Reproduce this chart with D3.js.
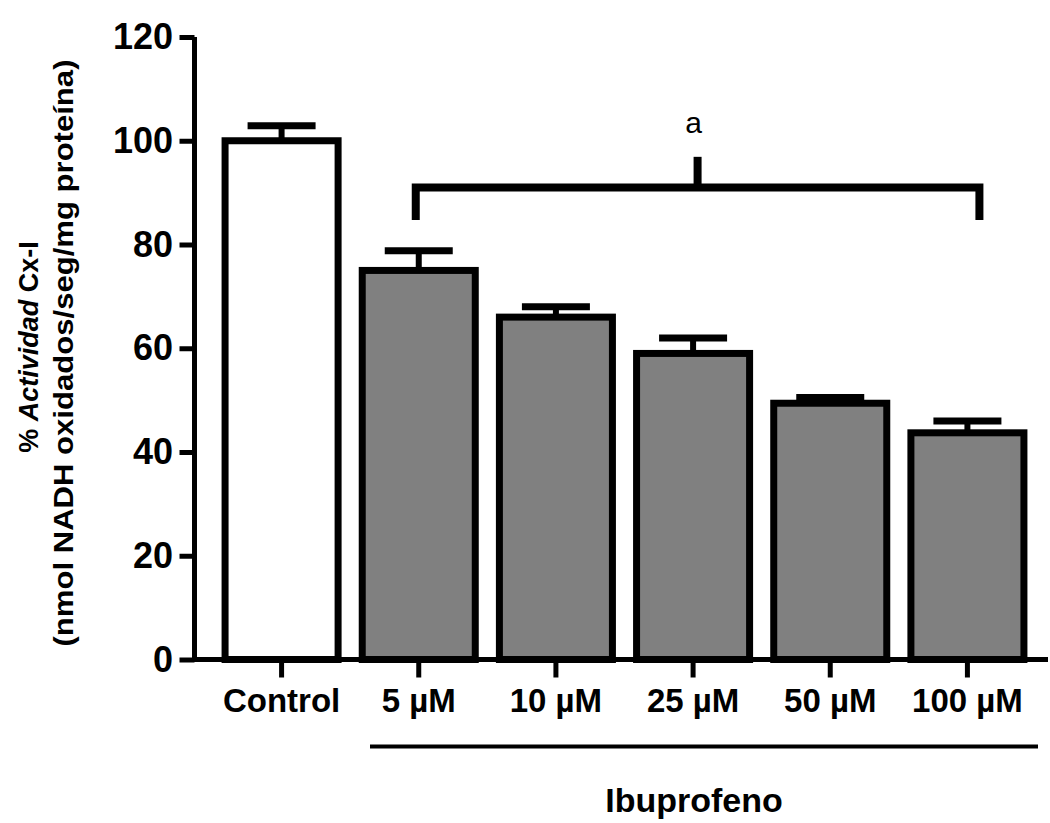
<!DOCTYPE html>
<html>
<head>
<meta charset="utf-8">
<script src="https://cdn.jsdelivr.net/npm/d3@7"></script>
<style>
  body { margin: 0; background: #fff; }
  svg { display: block; font-family: "Liberation Sans", Arial, sans-serif; }
</style>
</head>
<body>
<svg width="1050" height="823"></svg>
<script>
// data
var groups = ["Control", "5 µM", "10 µM", "25 µM", "50 µM", "100 µM"];
var means  = [100, 75, 66, 59, 49.4, 43.7];
var sems   = [2.9, 3.8, 2, 3, 1.1, 2.3];
var yTicks = [0, 20, 40, 60, 80, 100, 120];
var sigLabel = "a";
var groupLabel = "Ibuprofeno";

var svg = d3.select("svg");

var x = d3.scaleBand()
    .domain(groups)
    .range([213, 1036])
    .paddingInner(0.176)
    .paddingOuter(0.088);

var y = d3.scaleLinear()
    .domain([0, 120])
    .range([659.5, 37]);

// bars
svg.selectAll("rect.bar")
    .data(groups)
    .enter()
    .append("rect")
    .attr("class", "bar")
    .attr("x", function(d) { return x(d); })
    .attr("y", function(d, i) { return y(means[i]); })
    .attr("width", x.bandwidth())
    .attr("height", function(d, i) { return y(0) - y(means[i]); })
    .style("fill", function(d, i) { return i === 0 ? "#ffffff" : "#808080"; })
    .style("stroke", "#000")
    .style("stroke-width", 7);

// error bars (upper only)
var err = svg.append("g");
groups.forEach(function(g, i) {
    var cx = x(g) + x.bandwidth() / 2;
    err.append("line")
        .attr("x1", cx).attr("x2", cx)
        .attr("y1", y(means[i])).attr("y2", y(means[i] + sems[i]))
        .style("stroke", "#000").style("stroke-width", 6);
    err.append("line")
        .attr("x1", cx - 34).attr("x2", cx + 34)
        .attr("y1", y(means[i] + sems[i])).attr("y2", y(means[i] + sems[i]))
        .style("stroke", "#000").style("stroke-width", 7);
});

// axes
var yAxis = svg.append("g")
    .attr("transform", "translate(194.5,0)")
    .call(d3.axisLeft(y).tickValues(yTicks).tickSize(15).tickSizeOuter(0).tickPadding(6.5));
yAxis.select(".domain").attr("d", "M0," + y(120) + "V" + (y(0) + 2.5))
    .style("stroke", "#000").style("stroke-width", 5);
yAxis.selectAll(".tick line").style("stroke", "#000").style("stroke-width", 5);
yAxis.selectAll(".tick text")
    .style("font-size", "36px").style("font-weight", "bold").style("fill", "#000");

var xAxis = svg.append("g")
    .attr("transform", "translate(0," + y(0) + ")")
    .call(d3.axisBottom(x).tickSize(18).tickSizeOuter(0).tickPadding(11));
xAxis.select(".domain").attr("d", "M192,0H1048")
    .style("stroke", "#000").style("stroke-width", 5);
xAxis.selectAll(".tick line").style("stroke", "#000").style("stroke-width", 5);
xAxis.selectAll(".tick text")
    .style("font-size", "33px").style("font-weight", "bold").style("fill", "#000");

// y axis title
var yt = svg.append("g");
var t1 = yt.append("text")
    .attr("transform", "translate(38,347) rotate(-90)")
    .attr("text-anchor", "middle")
    .style("font-size", "27px").style("font-weight", "bold");
t1.append("tspan").text("% ");
t1.append("tspan").style("font-style", "italic").text("Actividad");
t1.append("tspan").text(" Cx-I");
yt.append("text")
    .attr("transform", "translate(73,353) rotate(-90)")
    .attr("text-anchor", "middle")
    .attr("textLength", 587)
    .attr("lengthAdjust", "spacingAndGlyphs")
    .style("font-size", "28px").style("font-weight", "bold")
    .text("(nmol NADH oxidados/seg/mg proteína)");

// significance bracket
var bx1 = x("5 µM") + x.bandwidth() / 2 - 3;
var bx2 = x("100 µM") + x.bandwidth() / 2 + 12;
var bmid = (bx1 + bx2) / 2;
svg.append("path")
    .attr("d", "M" + bx1 + "," + y(84.7) + "V" + y(91) + "H" + bx2 + "V" + y(84.7))
    .style("fill", "none").style("stroke", "#000").style("stroke-width", 8);
svg.append("line")
    .attr("x1", bmid).attr("x2", bmid)
    .attr("y1", y(91)).attr("y2", y(96.9))
    .style("stroke", "#000").style("stroke-width", 8);
svg.append("text")
    .attr("x", bmid - 4).attr("y", 133)
    .attr("text-anchor", "middle")
    .style("font-size", "30px")
    .text(sigLabel);

// treatment group line and label
svg.append("line")
    .attr("x1", 370).attr("x2", 1038)
    .attr("y1", 746.5).attr("y2", 746.5)
    .style("stroke", "#000").style("stroke-width", 4);
svg.append("text")
    .attr("x", 694).attr("y", 812)
    .attr("text-anchor", "middle")
    .style("font-size", "34px").style("font-weight", "bold")
    .text(groupLabel);
</script>
</body>
</html>
